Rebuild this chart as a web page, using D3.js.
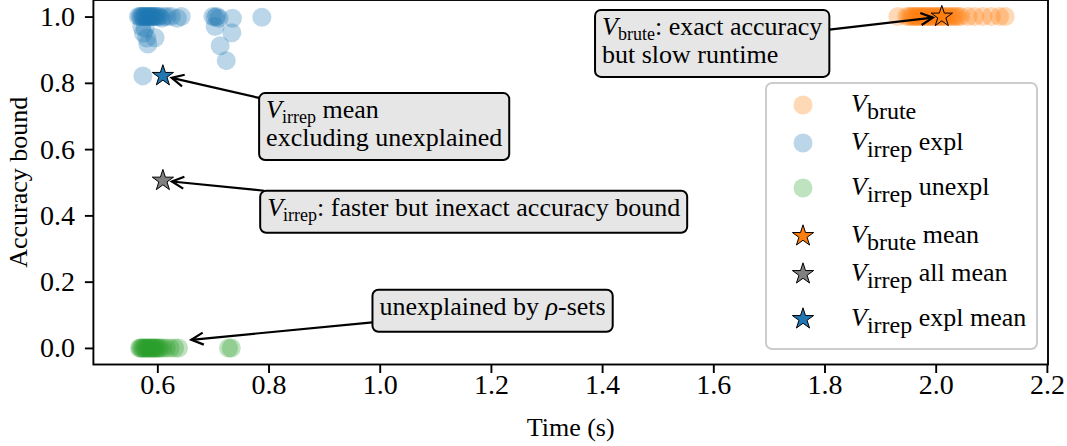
<!DOCTYPE html>
<html><head><meta charset="utf-8">
<script src="https://cdn.jsdelivr.net/npm/d3@7"></script>
<style>
body{margin:0;background:#fff}
svg{display:block}
text, tspan{font-family:"Liberation Serif","Times New Roman",Times,serif;fill:#000}
</style>
</head><body>
<svg id="c" width="1067" height="446"></svg>
<script>
// ---------------- data ----------------
const bruteTime = [1.932,1.948,1.952,1.956,1.959,1.962,1.965,1.968,1.971,1.974,1.977,1.980,1.983,1.986,1.989,1.992,1.995,1.998,2.001,2.004,2.007,2.010,2.013,2.016,2.020,2.024,2.028,2.032,2.036,2.040,2.045,2.058,2.070,2.085,2.100,2.115,2.125];
const bruteAcc  = [1,1,1,1,1,1,1,1,1,1,1,1,1,1,1,1,1,1,1,1,1,1,1,1,1,1,1,1,1,1,1,1,1,1,1,1,1];

const irrepExplTime = [0.566,0.569,0.571,0.573,0.575,0.577,0.579,0.581,0.583,0.585,0.587,0.589,0.591,0.593,0.595,0.598,0.601,0.604,0.608,0.612,0.618,0.625,0.636,0.643,
                       0.572,0.575,0.578,0.581,0.596,0.583,0.574,
                       0.700,0.704,0.707,0.711,0.735,0.788,0.704,0.734,0.713,0.724];
const irrepExplAcc  = [1,1,1,1,1,1,1,1,1,1,1,1,1,1,1,1,1,1,0.995,1,1,1,0.995,1,
                       0.97,0.95,0.965,0.935,0.936,0.917,0.821,
                       1,0.998,1,0.995,0.995,0.998,0.97,0.951,0.912,0.867];

const irrepUnexplTime = [0.568,0.570,0.572,0.574,0.576,0.578,0.580,0.582,0.584,0.586,0.588,0.590,0.592,0.594,0.596,0.598,0.600,0.603,0.606,0.610,0.616,0.623,0.631,0.638,0.728,0.733];
const irrepUnexplAcc  = [0,0,0,0,0,0,0,0,0,0,0,0,0,0,0,0,0,0,0,0,0,0,0,0,0,0];

const meanNames = ["brute mean","irrep all mean","irrep expl mean"];
const meanTime  = [2.011, 0.610, 0.610];
const meanAcc   = [1.000, 0.505, 0.821];

const xTicks = [0.6,0.8,1.0,1.2,1.4,1.6,1.8,2.0,2.2];
const yTicks = [0.0,0.2,0.4,0.6,0.8,1.0];

const legendSubs  = ["brute","irrep","irrep","brute","irrep","irrep"];
const legendRests = [""," expl"," unexpl"," mean"," all mean"," expl mean"];

// ---------------- layout ----------------
const FS = 26, SUB = 18, TICKFS = 28;
const C = {orange:"#ff7f0e", blue:"#1f77b4", green:"#2ca02c", gray:"#808080"};
const svg = d3.select("#c");
const L = 93.4, R = 1048, T = 0, B = 364.5;
const x = d3.scaleLinear().domain([0.485, 2.202]).range([L, R]);
const y = d3.scaleLinear().domain([-0.05, 1.05]).range([B, T]);

svg.append("clipPath").attr("id","clip").append("rect")
  .attr("x",L).attr("y",T).attr("width",R-L).attr("height",B-T);

const plot = svg.append("g").attr("clip-path","url(#clip)");
function scatter(xs, ys, col){
  plot.append("g").selectAll("circle").data(xs).join("circle")
    .attr("cx",(d)=>x(d)).attr("cy",(d,i)=>y(ys[i])).attr("r",9.5)
    .attr("fill",col).attr("fill-opacity",0.3);
}
scatter(bruteTime, bruteAcc, C.orange);
scatter(irrepExplTime, irrepExplAcc, C.blue);
scatter(irrepUnexplTime, irrepUnexplAcc, C.green);

const starCols = [C.orange, C.gray, C.blue];
const star = d3.symbol().type(d3.symbolStar).size(140);
plot.append("g").selectAll("path").data(meanTime).join("path")
  .attr("d",star).attr("transform",(d,i)=>`translate(${x(d)},${y(meanAcc[i])})`)
  .attr("fill",(d,i)=>starCols[i]).attr("stroke","#000").attr("stroke-width",1);

// axes
const xAxis = svg.append("g").attr("transform",`translate(0,${B})`)
  .call(d3.axisBottom(x).tickValues(xTicks).tickFormat(d3.format(".1f")).tickSize(8.5).tickPadding(1).tickSizeOuter(0));
const yAxis = svg.append("g").attr("transform",`translate(${L},0)`)
  .call(d3.axisLeft(y).tickValues(yTicks).tickFormat(d3.format(".1f")).tickSize(8.5).tickPadding(10).tickSizeOuter(0));
[xAxis,yAxis].forEach(g=>{
  g.attr("font-family",null).attr("font-size",null);
  g.select(".domain").remove();
  g.selectAll(".tick line").attr("stroke","#000").attr("stroke-width",1.9);
  g.selectAll(".tick text").attr("font-size",TICKFS);
});
svg.append("rect").attr("x",L).attr("y",T).attr("width",R-L).attr("height",B-T)
  .attr("fill","none").attr("stroke","#000").attr("stroke-width",1.9);

svg.append("text").attr("x",(L+R)/2).attr("y",436).attr("text-anchor","middle")
  .attr("font-size",FS).text("Time (s)");
svg.append("text").attr("transform",`translate(27,${(T+B)/2}) rotate(-90)`).attr("text-anchor","middle")
  .attr("font-size",FS).text("Accuracy bound");

// ---------------- annotations ----------------
const annotations = [
  {lines:[[["V","i"],["brute","s"],[": exact accuracy",""]],[["but slow runtime",""]]], at:[1.598,0.919], to:[meanTime[0],meanAcc[0]]},
  {lines:[[["V","i"],["irrep","s"],[" mean",""]],[["excluding unexplained",""]]], at:[1.008,0.668], to:[meanTime[2],meanAcc[2]]},
  {lines:[[["V","i"],["irrep","s"],[": faster but inexact accuracy bound",""]]], at:[1.169,0.411], to:[meanTime[1],meanAcc[1]]},
  {lines:[[["unexplained by ",""],["ρ","i"],["-sets",""]]], at:[1.203,0.112], to:[0.645,0.022]}
];

function richLine(textSel, parts, fs, sub, xpos, drop){
  let shifted = 0;
  parts.forEach((p,k)=>{
    const ts = textSel.append("tspan");
    if(k===0) ts.attr("x",xpos);
    if(p[1]==="s"){ ts.attr("font-size",sub).attr("dy",drop); shifted=drop; }
    else { ts.attr("font-size",fs); if(shifted){ ts.attr("dy",-shifted); shifted=0; } }
    if(p[1]==="i") ts.attr("font-style","italic");
    ts.text(p[0]);
  });
}

const annG = svg.append("g");
annotations.forEach(a=>{
  const g = annG.append("g");
  const cx = x(a.at[0]), cy = y(a.at[1]);
  const n = a.lines.length, lh = 28;
  const rect = g.append("rect");
  const texts = a.lines.map((ln,i)=>{
    const t = g.append("text").attr("y", 0);
    richLine(t, ln, FS, SUB, 0, 5);
    return t;
  });
  const w = d3.max(texts, t=>t.node().getBBox().width);
  const pad = 7;
  const bw = w + 2*pad, bh = 42 + (n-1)*25;
  const bx = cx - bw/2, by = cy - bh/2;
  texts.forEach((t,i)=>{
    t.attr("y", by + 25 + i*lh);
    t.selectAll("tspan").filter((d,k)=>k===0).attr("x", bx+pad);
  });
  rect.attr("x",bx).attr("y",by).attr("width",bw).attr("height",bh).attr("rx",6)
    .attr("fill","#e6e6e6").attr("stroke","#000").attr("stroke-width",2);
  // arrow from box edge to target
  const tx = x(a.to[0]), ty = y(a.to[1]);
  const dx = tx-cx, dy = ty-cy;
  const t0 = Math.min(Math.abs((bw/2)/dx), Math.abs((bh/2)/dy));
  const sx = cx + dx*t0, sy = cy + dy*t0;
  const len = Math.hypot(tx-sx, ty-sy);
  const ux = (tx-sx)/len, uy = (ty-sy)/len;
  const ex = tx - ux*9, ey = ty - uy*9;
  const hl = 12, hw = 6;
  const px = -uy, py = ux;
  const ag = annG.append("g").attr("fill","none").attr("stroke","#000").attr("stroke-width",2.2);
  ag.append("line").attr("x1",sx).attr("y1",sy).attr("x2",ex).attr("y2",ey);
  ag.append("path").attr("d",
    `M${ex-ux*hl+px*hw},${ey-uy*hl+py*hw} L${ex},${ey} L${ex-ux*hl-px*hw},${ey-uy*hl-py*hw}`);
});

// ---------------- legend ----------------
const lg = svg.append("g");
lg.append("rect").attr("x",766).attr("y",83).attr("width",271).attr("height",266).attr("rx",6)
  .attr("fill","#fff").attr("fill-opacity",0.8).attr("stroke","#cccccc").attr("stroke-width",2);
const rowY = [105,143,188,236,274,319];
const legMarkers = [
  {type:"c",col:C.orange},{type:"c",col:C.blue},{type:"c",col:C.green},
  {type:"s",col:starCols[0]},{type:"s",col:starCols[1]},{type:"s",col:starCols[2]}
];
legendSubs.forEach((s,i)=>{
  const m = legMarkers[i];
  if(m.type==="c"){
    lg.append("circle").attr("cx",803).attr("cy",rowY[i]).attr("r",9.5).attr("fill",m.col).attr("fill-opacity",0.3);
  } else {
    lg.append("path").attr("d",star).attr("transform",`translate(803,${rowY[i]})`)
      .attr("fill",m.col).attr("stroke","#000").attr("stroke-width",1);
  }
  const t = lg.append("text").attr("y",rowY[i]+7);
  const parts = [["V","i"],[s,"s"]];
  if(legendRests[i]) parts.push([legendRests[i],""]);
  richLine(t, parts, FS, 24, 851, 7);
});
</script>
</body></html>
